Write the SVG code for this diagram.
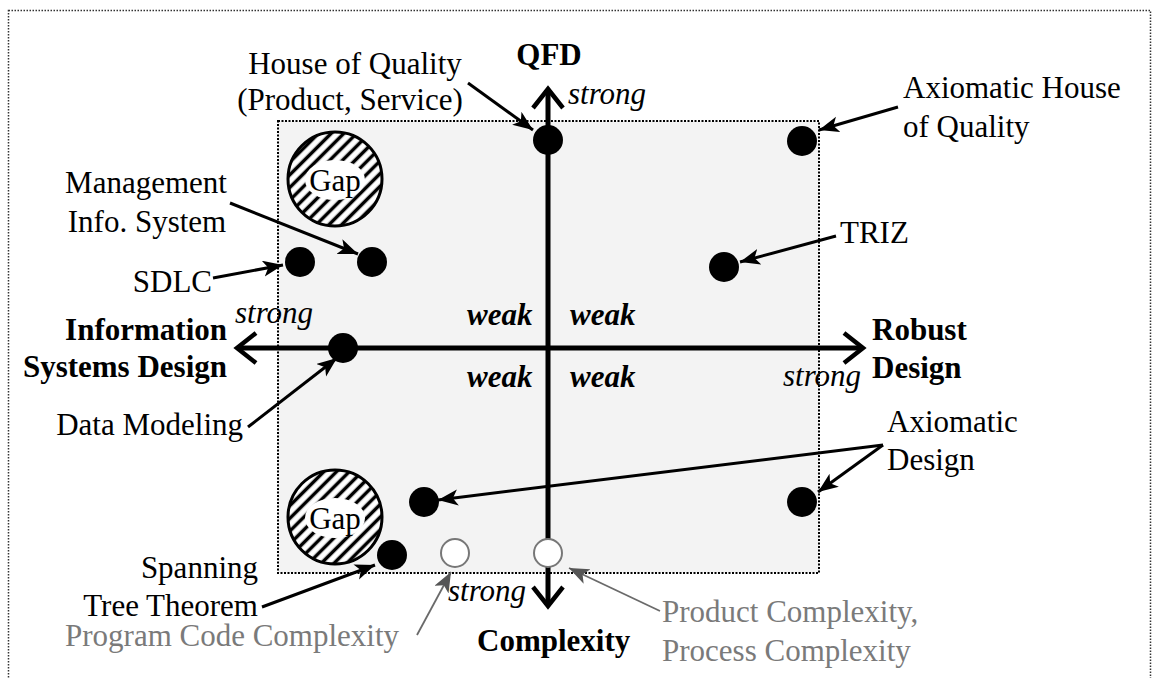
<svg xmlns="http://www.w3.org/2000/svg" width="1154" height="678" viewBox="0 0 1154 678">
<style>
text{font-family:"Liberation Serif","Times New Roman",serif;font-size:31px;fill:#000}
.b{font-weight:bold}
.i{font-style:italic}
.g{fill:#7a7a7a}
.dot{fill:#000}
.open{fill:#fff;stroke:#777;stroke-width:2}
.con{stroke:#000;stroke-width:3;fill:none;marker-end:url(#ah)}
.gcon{stroke:#6a6a6a;stroke-width:1.8;fill:none;marker-end:url(#gah)}
.axis{stroke:#000;stroke-width:5;fill:none;marker-end:url(#chev)}
</style>
<defs>
<marker id="ah" markerUnits="userSpaceOnUse" markerWidth="22" markerHeight="18" refX="20" refY="8" orient="auto" viewBox="0 0 22 18">
<path d="M0,0 L20,8 L0,16 L5,8 Z" fill="#000"/>
</marker>
<marker id="gah" markerUnits="userSpaceOnUse" markerWidth="22" markerHeight="18" refX="20" refY="8" orient="auto" viewBox="0 0 22 18">
<path d="M0,0 L20,8 L0,16 L5,8 Z" fill="#555"/>
</marker>
<marker id="chev" markerUnits="userSpaceOnUse" markerWidth="26" markerHeight="36" refX="21" refY="17" orient="auto" viewBox="0 0 26 36">
<path d="M2,2 L21,17 L2,32" fill="none" stroke="#000" stroke-width="4.5"/>
</marker>
<pattern id="hatch" patternUnits="userSpaceOnUse" width="9" height="9" patternTransform="rotate(45)">
<rect width="9" height="9" fill="#fff"/>
<line x1="4.5" y1="0" x2="4.5" y2="9" stroke="#000" stroke-width="3.5"/>
</pattern>
</defs>

<rect x="8.5" y="10.5" width="1142" height="690" fill="#fff" stroke="#333" stroke-width="1.5" stroke-dasharray="1.5 1.5"/>
<rect x="278" y="121" width="541" height="452" fill="#f3f3f3" stroke="#000" stroke-width="2" stroke-dasharray="2 1.5"/>

<g id="gap-top">
<circle cx="335" cy="179" r="47" fill="url(#hatch)" stroke="#000" stroke-width="3"/>
<ellipse cx="335" cy="180" rx="30" ry="20" fill="#fff"/>
<text x="335" y="191" text-anchor="middle">Gap</text>
</g>
<g id="gap-bottom">
<circle cx="335" cy="517" r="47" fill="url(#hatch)" stroke="#000" stroke-width="3"/>
<ellipse cx="335" cy="518" rx="30" ry="20" fill="#fff"/>
<text x="335" y="529" text-anchor="middle">Gap</text>
</g>

<g id="connectors">
<line class="axis" x1="548" y1="348" x2="548" y2="89"/>
<line class="axis" x1="548" y1="348" x2="548" y2="606"/>
<line class="axis" x1="548" y1="348" x2="237" y2="348"/>
<line class="axis" x1="548" y1="348" x2="863" y2="348"/>
<line class="con" x1="468" y1="83" x2="533" y2="130"/>
<line class="con" x1="898" y1="107" x2="819" y2="130"/>
<line class="con" x1="230" y1="203" x2="358" y2="254"/>
<line class="con" x1="836" y1="236" x2="740" y2="262"/>
<line class="con" x1="213" y1="278" x2="283" y2="265"/>
<line class="con" x1="248" y1="427" x2="337" y2="358"/>
<line class="con" x1="883" y1="445" x2="438" y2="500"/>
<line class="con" x1="883" y1="445" x2="818" y2="492"/>
<line class="con" x1="262" y1="607" x2="375" y2="565"/>
<line class="gcon" x1="417" y1="635" x2="451" y2="572"/>
<line class="gcon" x1="660" y1="611" x2="569" y2="568"/>
</g>

<g id="axis-labels">
<text class="b" x="549" y="65" text-anchor="middle">QFD</text>
<text class="i" x="568" y="104">strong</text>
<text class="b" x="227" y="340" text-anchor="end">Information</text>
<text class="b" x="227" y="377" text-anchor="end">Systems Design</text>
<text class="i" x="235" y="323">strong</text>
<text class="b" x="872" y="340">Robust</text>
<text class="b" x="872" y="378">Design</text>
<text class="i" x="783" y="386">strong</text>
<text class="i" x="448" y="601">strong</text>
<text class="b" x="477" y="651">Complexity</text>
<text class="b i" x="467" y="325">weak</text>
<text class="b i" x="570" y="325">weak</text>
<text class="b i" x="467" y="387">weak</text>
<text class="b i" x="570" y="387">weak</text>
</g>

<g id="house-of-quality">
<circle class="dot" cx="548" cy="140" r="15"/>
<text x="355" y="74" text-anchor="middle">House of Quality</text>
<text x="350" y="110" text-anchor="middle">(Product, Service)</text>
</g>
<g id="axiomatic-hoq">
<circle class="dot" cx="802" cy="141" r="15"/>
<text x="903" y="98">Axiomatic House</text>
<text x="903" y="137">of Quality</text>
</g>
<g id="triz">
<circle class="dot" cx="724" cy="267" r="15"/>
<text x="840" y="243">TRIZ</text>
</g>
<g id="mis">
<circle class="dot" cx="372" cy="262" r="15"/>
<text x="146" y="193" text-anchor="middle">Management</text>
<text x="147" y="232" text-anchor="middle">Info. System</text>
</g>
<g id="sdlc">
<circle class="dot" cx="300" cy="262" r="15"/>
<text x="212" y="292" text-anchor="end">SDLC</text>
</g>
<g id="data-modeling">
<circle class="dot" cx="343" cy="348" r="15"/>
<text x="243" y="435" text-anchor="end">Data Modeling</text>
</g>
<g id="axiomatic-design">
<circle class="dot" cx="424" cy="502" r="15"/>
<circle class="dot" cx="802" cy="502" r="15"/>
<text x="887" y="432">Axiomatic</text>
<text x="887" y="470">Design</text>
</g>
<g id="spanning-tree">
<circle class="dot" cx="392" cy="555" r="15"/>
<text x="258" y="578" text-anchor="end">Spanning</text>
<text x="258" y="616" text-anchor="end">Tree Theorem</text>
</g>
<g id="program-code">
<circle class="open" cx="455" cy="553" r="14"/>
<text class="g" x="65" y="646">Program Code Complexity</text>
</g>
<g id="product-process">
<circle class="open" cx="548" cy="553" r="14"/>
<text class="g" x="662" y="622">Product Complexity,</text>
<text class="g" x="662" y="661">Process Complexity</text>
</g>
</svg>
